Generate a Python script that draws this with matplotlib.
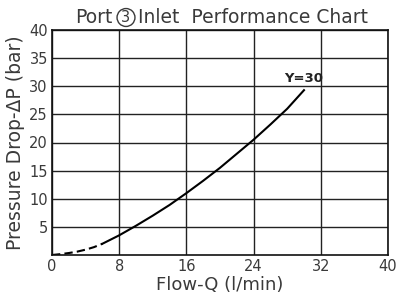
import numpy as np
import matplotlib
matplotlib.use("Agg")
import matplotlib.pyplot as plt

plt.rcParams['font.family'] = ['DejaVu Sans', 'Noto Sans CJK SC']

# dashed start of the curve
q_dash = [0, 1, 2, 3, 4, 5, 6]
p_dash = [0, 0.15, 0.35, 0.6, 0.95, 1.4, 2.0]
# solid part
q_solid = [6, 8, 10, 12, 14, 16, 18, 20, 22, 24, 26, 28, 30]
p_solid = [2.0, 3.5, 5.2, 7.0, 8.9, 11.0, 13.2, 15.5, 18.0, 20.5, 23.2, 26.0, 29.3]

xticks = [0, 8, 16, 24, 32, 40]
yticks = [5, 10, 15, 20, 25, 30, 35, 40]

txt = '#3a3a3a'
fig = plt.figure(figsize=(4, 3.01), dpi=100)
ax = fig.add_axes([52/400, 1 - 255/301, 336/400, 225/301])

ax.plot(q_dash, p_dash, color='black', lw=1.5, ls=(0, (4, 2)))
ax.plot(q_solid, p_solid, color='black', lw=1.5)
ax.text(27.6, 30.8, 'Y=30', fontsize=9.5, fontweight='bold', color='#222222')

ax.set_xlim(0, 40)
ax.set_ylim(0, 40)
ax.set_xticks(xticks)
ax.set_yticks(yticks)
ax.grid(True, color='#222222', lw=1.0)
ax.tick_params(length=0, labelsize=10.5, labelcolor=txt, pad=3)
for s in ax.spines.values():
    s.set_linewidth(1.2)
    s.set_color('#111111')

ax.set_xlabel('Flow-Q (l/min)', fontsize=13, color=txt, labelpad=1)
ax.set_ylabel('Pressure Drop-ΔP (bar)', fontsize=13.5, color=txt, labelpad=3)

# title with circled port number
ty = 1 - 23/301
fig.text(112/400, ty, 'Port', fontsize=13.5, color=txt, ha='right', va='baseline')
fig.text(126/400, ty + 1/301, '3', fontsize=10.5, color=txt, ha='center', va='baseline',
         bbox=dict(boxstyle='circle,pad=0.1', fc='none', ec=txt, lw=1.0))
fig.text(138/400, ty, 'Inlet  Performance Chart', fontsize=13.5, color=txt,
         ha='left', va='baseline')

fig.savefig('out.png', dpi=100)
